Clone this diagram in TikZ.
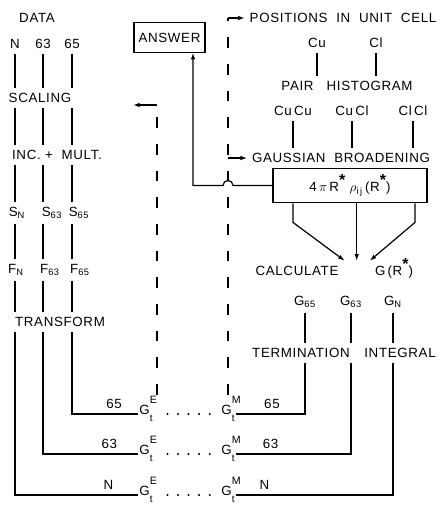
\documentclass[tikz,border=0pt]{standalone}
\usepackage{amsmath}
\usepackage{fontspec}
\setmainfont{Liberation Sans}[LetterSpace=5]
\usetikzlibrary{arrows.meta,calc}
\newcommand{\lettering}{\fontsize{10}{12}\selectfont}
\newcommand{\rstar}{\raisebox{0.45em}{\fontsize{12}{12}\selectfont\bfseries *}}
\newcommand{\gterm}[1]{G\rlap{\raisebox{0.78em}{\fontsize{8}{8}\selectfont #1}}\raisebox{-0.55em}{\fontsize{7.5}{7.5}\selectfont t}\hspace{0.3em}}

\begin{document}
\begin{tikzpicture}[
    x=0.75pt,y=-0.75pt,
    lbl/.style={inner sep=3.5pt, font=\lettering},
    sym/.style={lbl, inner sep=1pt},
    framed/.style={lbl, draw, line width=0.9pt},
    wire/.style={line width=0.9pt},
    arr/.style={wire, -{Latex[length=5pt,width=3.4pt]}},
    dashback/.style={wire, dash pattern=on 8pt off 12pt},
    dotrow/.style={line width=1.7pt, line cap=round, dash pattern=on 0pt off 7.9pt, shorten <=10pt}
  ]
    \useasboundingbox (0,0) rectangle (439,506);

    % data side
    \node[lbl] (data) at (37,18) {DATA};
    \node[lbl] (colN) at (15,44) {N};
    \node[lbl] (col63) at (43,44) {63};
    \node[lbl] (col65) at (72,44) {65};
    \node[lbl] (scaling) at (40,98) {SCALING};
    \node[lbl] (inc) at (57,155) {INC.\ +\ \ MULT.};
    \node[lbl] (sN) at (17,213) {S\textsubscript{N}};
    \node[lbl] (s63) at (52,213) {S\textsubscript{63}};
    \node[lbl] (s65) at (79,213) {S\textsubscript{65}};
    \node[lbl] (fN) at (16,270) {F\textsubscript{N}};
    \node[lbl] (f63) at (50,270) {F\textsubscript{63}};
    \node[lbl] (f65) at (80,270) {F\textsubscript{65}};
    \node[lbl] (transform) at (60,322) {TRANSFORM};

    \foreach \c in {colN,col63,col65}{
      \draw[wire] (\c.south) -- (\c |- scaling.north);
      \draw[wire] (\c |- scaling.south) -- (\c |- inc.north);
      \draw[wire] (\c |- inc.south) -- (\c |- sN.north);
      \draw[wire] (\c |- s63.south) -- (\c |- fN.north);
      \draw[wire] (\c |- f63.south) -- (\c |- transform.north);
    }

    % model side
    \node[framed, minimum width=53pt, minimum height=22pt] (answer) at (169.5,37.5) {ANSWER};
    \node[lbl] (pos) at (343,18) {POSITIONS\ \ IN\ \ UNIT\ \ CELL};
    \node[lbl] (cu) at (317,43) {Cu};
    \node[lbl] (cl) at (376,43) {Cl};
    \node[lbl] (pair) at (347,86) {PAIR\ \ \ HISTOGRAM};
    \node[lbl] (cucu) at (293,111) {Cu\,Cu};
    \node[lbl] (cucl) at (352,111) {Cu\,Cl};
    \node[lbl] (clcl) at (413,111) {Cl\,Cl};
    \node[lbl] (gauss) at (341,158) {GAUSSIAN\ \ BROADENING};
    \node[framed, minimum width=115.5pt, minimum height=26pt] (rho) at (350,185.5)
      {4\,$\pi$\,R\rstar\ $\rho_{\text{i\,j}}$\,(R\rstar)};
    \node[lbl, anchor=base] (calcA) at (297,275) {CALCULATE};
    \node[lbl, anchor=base] (calcB) at (394,275) {G\,(R\rstar)};
    \node[lbl] (g65) at (305,302) {G\textsubscript{65}};
    \node[lbl] (g63) at (351,302) {G\textsubscript{63}};
    \node[lbl] (gN) at (393,302) {G\textsubscript{N}};
    \node[lbl] (term) at (301,353) {TERMINATION};
    \node[lbl] (integ) at (400,353) {INTEGRAL};

    \draw[wire] (cu.south) -- (cu.south |- pair.north);
    \draw[wire] (cl.south) -- (cl.south |- pair.north);
    \foreach \p in {cucu,cucl,clcl}{\draw[wire] (\p.south) -- (\p.south |- gauss.north);}
    \draw[wire] (g65.south) -- (g65.south |- term.north);
    \draw[wire] (g63.south) -- (g63.south |- term.north);
    \draw[wire] (gN.south) -- (gN.south |- integ.north);

    \coordinate (meet) at ($(calcA.north east)!.5!(calcA.north east -| calcB.north west)$);
    \draw[arr] ($(rho.south)+(-57,0)$) -- ++(0,19) -- ($(meet)+(-12,0)$);
    \draw[arr] (meet |- rho.south) -- (meet);
    \draw[arr] ($(rho.south)+(65,0)$) -- ++(0,19) -- ($(meet)+(13,0)$);

    % G^E ... G^M rows
    \foreach \r/\y in {1/414,2/454,3/495}{
      \node[sym, anchor=base] (gE\r) at (146,\y) {\gterm{E}};
      \node[sym, anchor=base] (gM\r) at (228,\y) {\gterm{M}};
      \draw[dotrow] (gE\r.base east) -- (gM\r.base west);
    }

    \draw[wire] (col65 |- transform.south) |- node[lbl, pos=.82, above]{65} (gE1.base west);
    \draw[wire] (col63 |- transform.south) |- node[lbl, pos=.85, above]{63} (gE2.base west);
    \draw[wire] (colN |- transform.south) |- node[lbl, pos=.88, above]{N} (gE3.base west);
    \draw[wire] (g65 |- term.south) |- node[lbl, pos=.74, above]{65} (gM1.base east);
    \draw[wire] (g63 |- term.south) |- node[lbl, pos=.85, above]{63} (gM2.base east);
    \draw[wire] (gN |- integ.south) |- node[lbl, pos=.91, above]{N} (gM3.base east);

    % feedback loops
    \coordinate (kinkL) at (157,105);
    \coordinate (retL) at (133,105);
    \draw[dashback] (gE1.north -| kinkL) -- (kinkL);
    \draw[arr] (kinkL) -- (retL);

    \draw[dashback] (gM1.north) -- (gM1.north |- pos.west);
    \draw[arr] (gM1.north |- pos.west) -- (pos.west);
    \draw[arr] (gM1.north |- gauss.west) -- (gauss.west);

    \coordinate (hop) at (gM1.north |- rho.west);
    \coordinate (turn) at (193,185.5);
    \draw[arr] (rho.west) -- ([xshift=3.75pt]hop) arc[start angle=0, end angle=180, radius=3.75pt]
      -- (turn) -- (turn |- answer.south);
\end{tikzpicture}
\end{document}
